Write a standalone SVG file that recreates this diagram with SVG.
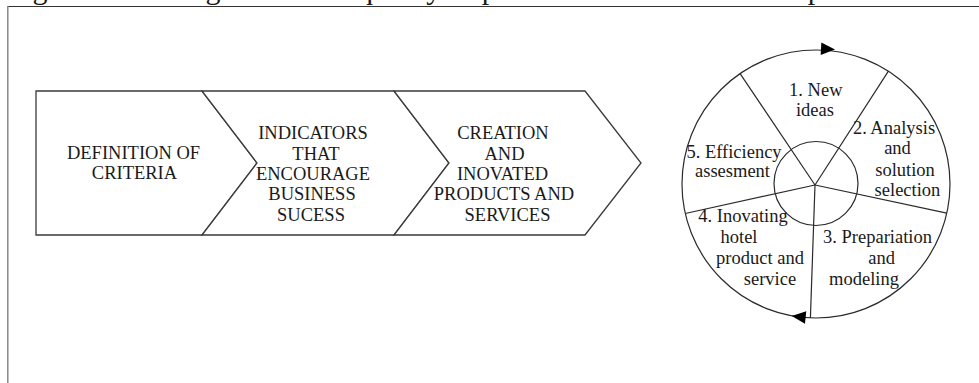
<svg xmlns="http://www.w3.org/2000/svg" width="979" height="383" viewBox="0 0 979 383">
<style>
.t{font-family:"Liberation Serif","Times New Roman",serif;font-size:18.5px;fill:#1a1a1a;text-anchor:middle}
.cap{font-family:"Liberation Serif","Times New Roman",serif;font-size:30px;fill:#1a1a1a}
.shape{fill:#fff;stroke:#3a3a3a;stroke-width:1.3;stroke-linejoin:miter}
.ln{fill:none;stroke:#2a2a2a;stroke-width:1.2}
.ah{fill:#000}
</style>
<defs>
<path id="ah" d="M0,0 L-14,-6.2 L-14,6.2 Z"/>
</defs>
<rect width="979" height="383" fill="#fff"/>
<g id="caption">
<text class="cap" y="-1"><tspan x="7.5">Figure</tspan><tspan x="93">4.</tspan><tspan x="135.5">Strategic</tspan><tspan x="250">model</tspan><tspan x="332">of</tspan><tspan x="358">quality</tspan><tspan x="450">improvement</tspan><tspan x="617">in</tspan><tspan x="648">the</tspan><tspan x="693">hotel</tspan><tspan x="756">companies</tspan></text>
</g>
<g id="frame">
<line x1="7.5" y1="6.5" x2="979" y2="6.5" stroke="#333" stroke-width="1"/>
<line x1="7.8" y1="6" x2="7.8" y2="383" stroke="#888" stroke-width="1.5"/>
</g>
<g id="chevron1">
<polygon class="shape" points="36,91 202,91 257,163 202,235 36,235"/>
<text class="t" x="133.5" y="159.3">DEFINITION OF</text>
<text class="t" x="134.5" y="179.3">CRITERIA</text>
</g>
<g id="chevron2">
<polygon class="shape" points="202,91 394,91 449,163 394,235 202,235 257,163"/>
<text class="t" x="313" y="139.3">INDICATORS</text>
<text class="t" x="316" y="159.6">THAT</text>
<text class="t" x="313" y="180">ENCOURAGE</text>
<text class="t" x="312" y="200.3">BUSINESS</text>
<text class="t" x="311" y="220.6">SUCESS</text>
</g>
<g id="chevron3">
<polygon class="shape" points="394,91 585,91 641,163 585,235 394,235 449,163"/>
<text class="t" x="503" y="139.3">CREATION</text>
<text class="t" x="504.5" y="159.6">AND</text>
<text class="t" x="502.5" y="180">INOVATED</text>
<text class="t" x="504" y="200.3">PRODUCTS AND</text>
<text class="t" x="507.5" y="220.6">SERVICES</text>
</g>
<g id="cycle">
<circle class="ln" cx="816" cy="184" r="134"/>
<circle class="ln" cx="816" cy="183.5" r="42"/>
<line class="ln" x1="815" y1="185" x2="740.1" y2="73.6"/>
<line class="ln" x1="815" y1="185" x2="888.4" y2="71.2"/>
<line class="ln" x1="815" y1="185" x2="946.8" y2="213.2"/>
<line class="ln" x1="815" y1="185" x2="685.3" y2="213.5"/>
<line class="ln" x1="815" y1="185" x2="810.4" y2="317.9"/>
</g>
<g id="stage1">
<text class="t" x="815.8" y="95.7">1. New</text>
<text class="t" x="815" y="116">ideas</text>
</g>
<g id="stage2">
<text class="t" x="894" y="134">2. Analysis</text>
<text class="t" x="897.5" y="154">and</text>
<text class="t" x="905" y="175.7">solution</text>
<text class="t" x="907.5" y="196">selection</text>
</g>
<g id="stage3">
<text class="t" x="877.5" y="243.3">3. Prepariation</text>
<text class="t" x="881.7" y="264">and</text>
<text class="t" x="864" y="285">modeling</text>
</g>
<g id="stage4">
<text class="t" x="743" y="222.3">4. Inovating</text>
<text class="t" x="739" y="243.3">hotel</text>
<text class="t" x="760" y="264">product and</text>
<text class="t" x="770" y="285">service</text>
</g>
<g id="stage5">
<text class="t" x="734" y="158.3">5. Efficiency</text>
<text class="t" x="732.5" y="176.7">assesment</text>
</g>
<g id="connectors">
<use href="#ah" class="ah" transform="translate(835,49.5) rotate(3)"/>
<use href="#ah" class="ah" transform="translate(791.7,316) rotate(186)"/>
</g>
</svg>
